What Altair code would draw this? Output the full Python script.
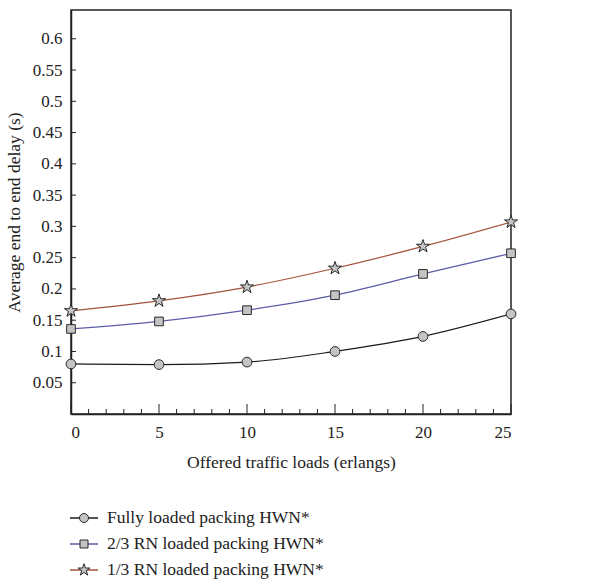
import altair as alt
import pandas as pd

loads = [0, 5, 10, 15, 20, 25]
series_names = [
    "Fully loaded packing HWN*",
    "2/3 RN loaded packing HWN*",
    "1/3 RN loaded packing HWN*",
]
fully = [0.080, 0.079, 0.083, 0.100, 0.124, 0.160]
two_thirds = [0.136, 0.148, 0.166, 0.190, 0.224, 0.257]
one_third = [0.165, 0.181, 0.203, 0.233, 0.268, 0.307]

y_ticks = [0.05, 0.1, 0.15, 0.2, 0.25, 0.3, 0.35, 0.4, 0.45, 0.5, 0.55, 0.6]
x_major = [0, 5, 10, 15, 20, 25]
x_minor = [v for v in range(0, 26) if v % 5 != 0]

colors = ["#1a1a1a", "#5c5ca8", "#a4523a"]
STAR = ("M0,-1L0.2245,-0.309L0.951,-0.309L0.3633,0.118L0.5878,0.809L0,0.382"
        "L-0.5878,0.809L-0.3633,0.118L-0.951,-0.309L-0.2245,-0.309Z")
marker_shapes = ["circle", "square", STAR]
marker_sizes = [95, 75, 190]

FONT = "Liberation Serif"
W, H = 440, 404

rows = []
for name, vals in zip(series_names, [fully, two_thirds, one_third]):
    for x, y in zip(loads, vals):
        rows.append({"load": x, "delay": y, "series": name})
df = pd.DataFrame(rows)

xs = alt.Scale(domain=[0, 25], nice=False, zero=False)
ys = alt.Scale(domain=[0, 0.646], nice=False)
cs = alt.Scale(domain=series_names, range=colors)

x_axis = alt.Axis(values=x_major, title="Offered traffic loads (erlangs)", ticks=False,
                  labelPadding=10, titlePadding=13, grid=False, labelOverlap=False)
y_axis = alt.Axis(values=y_ticks, format="~g", title="Average end to end delay (s)",
                  ticks=False, labelPadding=9, titlePadding=9, grid=False,
                  labelOverlap=False, labelBound=False)

base = alt.Chart(df)

lines = base.mark_line(interpolate="monotone", strokeWidth=1.2).encode(
    x=alt.X("load:Q", scale=xs, axis=x_axis),
    y=alt.Y("delay:Q", scale=ys, axis=y_axis),
    color=alt.Color("series:N", scale=cs, legend=None),
)

point_layers = []
for name, shp, siz in zip(series_names, marker_shapes, marker_sizes):
    point_layers.append(
        base.transform_filter(alt.datum.series == name).mark_point(
            filled=True, fill="#c4c4c4", stroke="#2a2a2a", strokeWidth=1,
            opacity=1, shape=shp, size=siz).encode(
            x=alt.X("load:Q", scale=xs, axis=x_axis),
            y=alt.Y("delay:Q", scale=ys, axis=y_axis)))

yt = alt.Chart(pd.DataFrame({"v": y_ticks})).mark_rule(color="#222", strokeWidth=1).encode(
    y=alt.Y("v:Q", scale=ys, axis=y_axis), x=alt.value(0), x2=alt.value(5))
xmaj = alt.Chart(pd.DataFrame({"v": x_major})).mark_rule(color="#222", strokeWidth=1).encode(
    x=alt.X("v:Q", scale=xs, axis=x_axis), y=alt.value(H), y2=alt.value(H - 10))
xmin = alt.Chart(pd.DataFrame({"v": x_minor})).mark_rule(color="#222", strokeWidth=1).encode(
    x=alt.X("v:Q", scale=xs, axis=x_axis), y=alt.value(H), y2=alt.value(H - 5))

main = alt.layer(lines, yt, xmaj, xmin, *point_layers).properties(
    width=W, height=H, view=alt.ViewBackground(stroke="#222", strokeWidth=1.5))

leg_df = pd.DataFrame({"series": series_names})
ly = alt.Y("series:N", sort=series_names, axis=None,
           scale=alt.Scale(type="point", padding=0.5, domain=series_names))
lbase = alt.Chart(leg_df)
lrule = lbase.mark_rule(strokeWidth=1.5).encode(
    y=ly, x=alt.value(-1), x2=alt.value(27),
    color=alt.Color("series:N", scale=alt.Scale(domain=series_names,
                    range=["#222222", "#8a8ac4", "#b06048"]), legend=None))
leg_pts = []
for name, shp, siz in zip(series_names, marker_shapes, marker_sizes):
    leg_pts.append(
        lbase.transform_filter(alt.datum.series == name).mark_point(
            filled=True, fill="#c4c4c4", stroke="#2a2a2a", strokeWidth=1,
            opacity=1, shape=shp, size=siz * 0.85).encode(y=ly, x=alt.value(13)))
ltxt = lbase.mark_text(align="left", baseline="middle", font=FONT, fontSize=17.5,
                       color="#222").encode(
    y=ly, x=alt.value(36), text="series:N")
legend = alt.layer(lrule, *leg_pts, ltxt).properties(
    width=W, height=78, view=alt.ViewBackground(stroke=None))

chart = alt.vconcat(main, legend, spacing=33).properties(
    padding={"left": 4, "top": 9, "right": 10, "bottom": 0}
).configure_axis(
    labelFont=FONT, titleFont=FONT, labelFontSize=17, titleFontSize=17.5,
    labelColor="#222", titleColor="#222", titleFontWeight="normal",
    domainColor="#222", domainWidth=1.5,
)

chart.save("out.html", embed_options={"renderer": "svg", "actions": False})
